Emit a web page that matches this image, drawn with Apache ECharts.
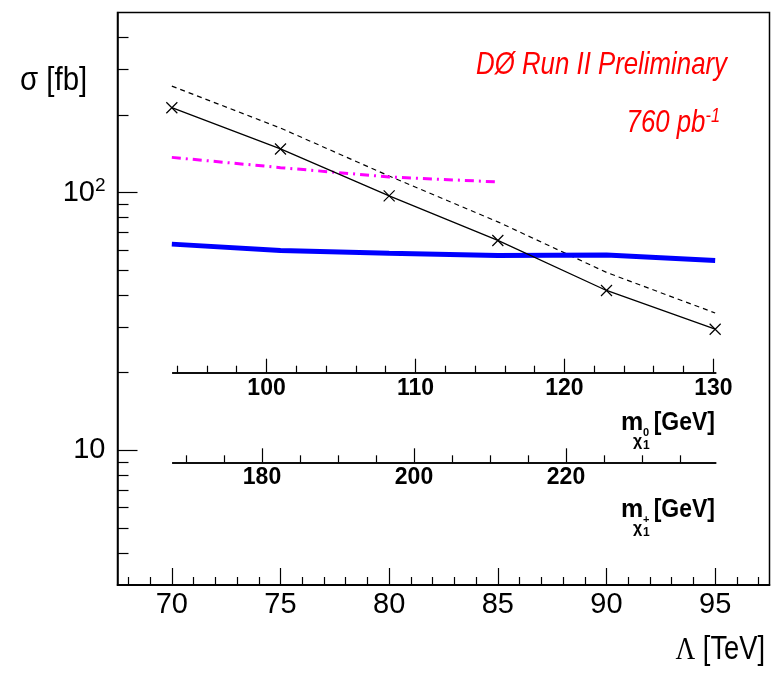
<!DOCTYPE html>
<html><head><meta charset="utf-8">
<script src="https://cdn.jsdelivr.net/npm/echarts@6/dist/echarts.min.js"></script>
<style>html,body{margin:0;padding:0;background:#fff}#c{width:778px;height:676px}</style>
</head><body><div id="c"></div>
<script>
// ---- data ----
const lambdaTeV = [70, 75, 80, 85, 90, 95];
const sigmaTheory = [213.5, 147.7, 97.1, 65.2, 41.7, 29.5];
const sigmaTheoryUpper = [259, 178, 116, 77, 49, 34.1];
const lambdaMagenta = [70, 75, 80, 85];
const sigmaMagenta = [137, 125, 115, 110];
const sigmaLimit = [63.1, 59.6, 58.2, 57.0, 57.2, 54.5];

// ---- tick labels ----
const xMajorTicks = [70, 75, 80, 85, 90, 95];
const xMinorTicks = [68, 69, 71, 72, 73, 74, 76, 77, 78, 79, 81, 82, 83, 84, 86, 87, 88, 89, 91, 92, 93, 94, 96, 97];
const yMajorTicks = [10, 100];
const yMinorTicks = [4, 5, 6, 7, 8, 9, 20, 30, 40, 50, 60, 70, 80, 90, 200, 300, 400];
const neutMajorTicks = [100, 110, 120, 130];
const neutMinorTicks = [94, 96, 98, 102, 104, 106, 108, 112, 114, 116, 118, 122, 124, 126, 128];
const charMajorTicks = [180, 200, 220];
const charMinorTicks = [170, 175, 185, 190, 195, 205, 210, 215, 225, 230, 235];

const F = "'Liberation Sans',Arial,sans-serif";
const FS = "'Liberation Serif','Times New Roman',serif";
const chart = echarts.init(document.getElementById('c'), null, {renderer: 'canvas'});

const xCross = 'path://M0,0L10,10M10,0L0,10';

function hiddenY(gi) {
  return {type: 'value', gridIndex: gi, show: false, min: 0, max: 1};
}
function tickAxis(gi, min, max, ticks, len, labels, labelSize, bold, margin) {
  return {
    type: 'value', gridIndex: gi, min: min, max: max, position: 'bottom',
    axisLine: {show: true, onZero: false, lineStyle: {color: '#000', width: 1.5}},
    axisTick: {show: true, inside: true, length: len, customValues: ticks, lineStyle: {color: '#000', width: 1.2}},
    axisLabel: labels ? {show: true, customValues: labels, margin: margin, color: '#000', fontFamily: F, fontSize: labelSize, fontWeight: bold ? 'bold' : 'normal'} : {show: false},
    splitLine: {show: false}, minorTick: {show: false}
  };
}
function txt(x, y, text, font, fill, align, sx, sy, rich) {
  const st = {text: text, font: font, fill: fill || '#000', align: align || 'left', verticalAlign: 'top'};
  if (rich) st.rich = rich;
  return {type: 'text', x: x, y: y, scaleX: sx || 1, scaleY: sy || 1, style: st, z: 10};
}

const option = {
  animation: false,
  backgroundColor: '#fff',
  grid: [
    {left: 117.5, top: 12.5, right: 8.5, bottom: 91, show: true, borderColor: '#000', borderWidth: 1.5, backgroundColor: 'transparent'},
    {left: 172.7, top: 371.7, width: 543, height: 1},
    {left: 172.7, top: 461.3, width: 543, height: 1}
  ],
  xAxis: [
    tickAxis(0, 67.5, 97.5, xMajorTicks, 17, xMajorTicks, 29, false, 5),
    tickAxis(0, 67.5, 97.5, xMinorTicks, 8, null),
    tickAxis(1, 93.7, 130.16, neutMajorTicks, 14, neutMajorTicks, 23, true, 4),
    tickAxis(1, 93.7, 130.16, neutMinorTicks, 7, null),
    tickAxis(2, 168.25, 239.7, charMajorTicks, 14, charMajorTicks, 23, true, 4),
    tickAxis(2, 168.25, 239.7, charMinorTicks, 7, null)
  ],
  yAxis: [
    {
      type: 'log', gridIndex: 0, min: 3, max: 500, logBase: 10, position: 'left',
      axisLine: {show: true, onZero: false, lineStyle: {color: '#000', width: 1.5}},
      axisTick: {show: true, inside: true, length: 20, customValues: yMajorTicks, lineStyle: {color: '#000', width: 1.2}},
      axisLabel: {
        show: true, customValues: yMajorTicks, margin: 12, color: '#000', fontFamily: F, fontSize: 29,
        formatter: function (v) { return v >= 100 ? '10{sup|2}' : '10'; },
        rich: {sup: {fontFamily: F, fontSize: 19, verticalAlign: 'top', padding: [0, 0, 14, 0], color: '#000'}}
      },
      splitLine: {show: false}, minorTick: {show: false}
    },
    {
      type: 'log', gridIndex: 0, min: 3, max: 500, logBase: 10, position: 'left', offset: 0,
      axisLine: {show: false},
      axisTick: {show: true, inside: true, length: 11, customValues: yMinorTicks, lineStyle: {color: '#000', width: 1.2}},
      axisLabel: {show: false}, splitLine: {show: false}
    },
    hiddenY(1), hiddenY(2)
  ],
  series: [
    {
      type: 'line', xAxisIndex: 0, yAxisIndex: 0,
      data: lambdaTeV.map((x, i) => [x, sigmaTheoryUpper[i]]),
      showSymbol: false, lineStyle: {color: '#000', width: 1.2, type: [5, 4]}, z: 3
    },
    {
      type: 'line', xAxisIndex: 0, yAxisIndex: 0,
      data: lambdaMagenta.map((x, i) => [x, sigmaMagenta[i]]),
      showSymbol: false, lineStyle: {color: '#ff00ff', width: 3, type: [9, 5, 2, 5]}, z: 3
    },
    {
      type: 'line', xAxisIndex: 0, yAxisIndex: 0,
      data: lambdaTeV.map((x, i) => [x, sigmaLimit[i]]),
      showSymbol: false, lineStyle: {color: '#0000ff', width: 5}, z: 3
    },
    {
      type: 'line', xAxisIndex: 0, yAxisIndex: 0,
      data: lambdaTeV.map((x, i) => [x, sigmaTheory[i]]),
      symbol: xCross, symbolSize: 11, showSymbol: true,
      itemStyle: {color: 'none', borderColor: '#000', borderWidth: 1.2},
      lineStyle: {color: '#000', width: 1.3}, z: 4
    }
  ],
  graphic: [
    txt(20, 64, 'σ [fb]', '31px ' + F, '#000', 'left', 0.95, 1.08),
    txt(765, 634, '{g|Λ} [TeV]', '31px ' + F, '#000', 'right', 0.88, 1.05, {g: {font: '31px ' + FS, fill: '#000'}}),
    txt(727, 50, 'DØ Run II Preliminary', 'italic 30px ' + F, '#ff0000', 'right', 0.86, 1.02),
    txt(720, 107, '760 pb{sup|-1}', 'italic 30px ' + F, '#ff0000', 'right', 0.86, 1.02,
      {sup: {font: 'italic 19px ' + F, fill: '#ff0000', verticalAlign: 'top', padding: [0, 0, 14, 0]}}),
    // m_chi10 label
    txt(621, 411, 'm', 'bold 25px ' + F),
    txt(633, 434, 'χ', 'bold 16px ' + F),
    txt(643, 427, '0', 'bold 11px ' + F),
    txt(643, 440, '1', 'bold 12px ' + F),
    txt(715, 410, '[GeV]', 'bold 25px ' + F, '#000', 'right', 0.92, 1.05),
    // m_chi1+ label
    txt(621, 498, 'm', 'bold 25px ' + F),
    txt(633, 521, 'χ', 'bold 16px ' + F),
    txt(643, 514, '+', 'bold 11px ' + F),
    txt(643, 527, '1', 'bold 12px ' + F),
    txt(715, 497, '[GeV]', 'bold 25px ' + F, '#000', 'right', 0.92, 1.05)
  ]
};
chart.setOption(option);
</script>
</body></html>
